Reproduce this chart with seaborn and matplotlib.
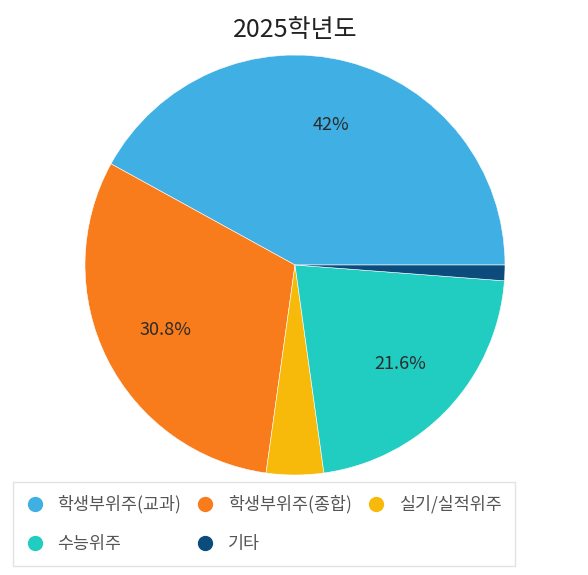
import numpy as np
import seaborn as sns
from matplotlib import pyplot as plt
from matplotlib.lines import Line2D

sns.set_style("white")
plt.rcParams["font.family"] = ["Noto Sans CJK KR", "DejaVu Sans"]

# data
categories = ["학생부위주(교과)", "학생부위주(종합)", "실기/실적위주", "수능위주", "기타"]
shares = [42.0, 30.8, 4.4, 21.6, 1.2]
colors = ["#3FAFE4", "#F87C1B", "#F8BA0A", "#21CCC1", "#0B4C7D"]
title = "2025학년도"

fig = plt.figure(figsize=(5.88, 5.75), dpi=100)
W, H = 588, 575
cx, cy, r = 295, 265, 210
ax = fig.add_axes([(cx - r) / W, 1 - (cy + r) / H, 2 * r / W, 2 * r / H])

wedges, texts, autotexts = ax.pie(
    shares,
    colors=colors,
    startangle=0,
    counterclock=True,
    autopct=lambda p: f"{p:.1f}%".replace(".0%", "%") if p > 5 else "",
    pctdistance=0.69,
    wedgeprops={"linewidth": 0.4, "edgecolor": "white"},
    textprops={"fontsize": 13, "color": "#2B2B2B"},
)
ax.set_xlim(-1.0, 1.0)
ax.set_ylim(-1.0, 1.0)

fig.text(cx / W, 1 - 30 / H, title, ha="center", va="center", fontsize=18, color="#222222")

# legend laid out row by row (matplotlib fills columns first)
handles = [
    Line2D([], [], marker="o", linestyle="", markersize=10, markerfacecolor=c, markeredgecolor=c)
    for c in colors
]
order = [0, 3, 1, 4, 2]
leg = fig.legend(
    [handles[i] for i in order],
    [categories[i] for i in order],
    ncol=3,
    loc="upper left",
    bbox_to_anchor=(13 / W, 1 - 482 / H),
    fontsize=12.5,
    frameon=True,
    fancybox=False,
    edgecolor="#DDDDDD",
    handlelength=1.0,
    handletextpad=0.8,
    columnspacing=0.9,
    labelspacing=1.25,
    borderpad=0.75,
    borderaxespad=0,
)
for t in leg.get_texts():
    t.set_color("#555555")
leg.get_frame().set_linewidth(1.0)

fig.savefig("out.png", dpi=100)
